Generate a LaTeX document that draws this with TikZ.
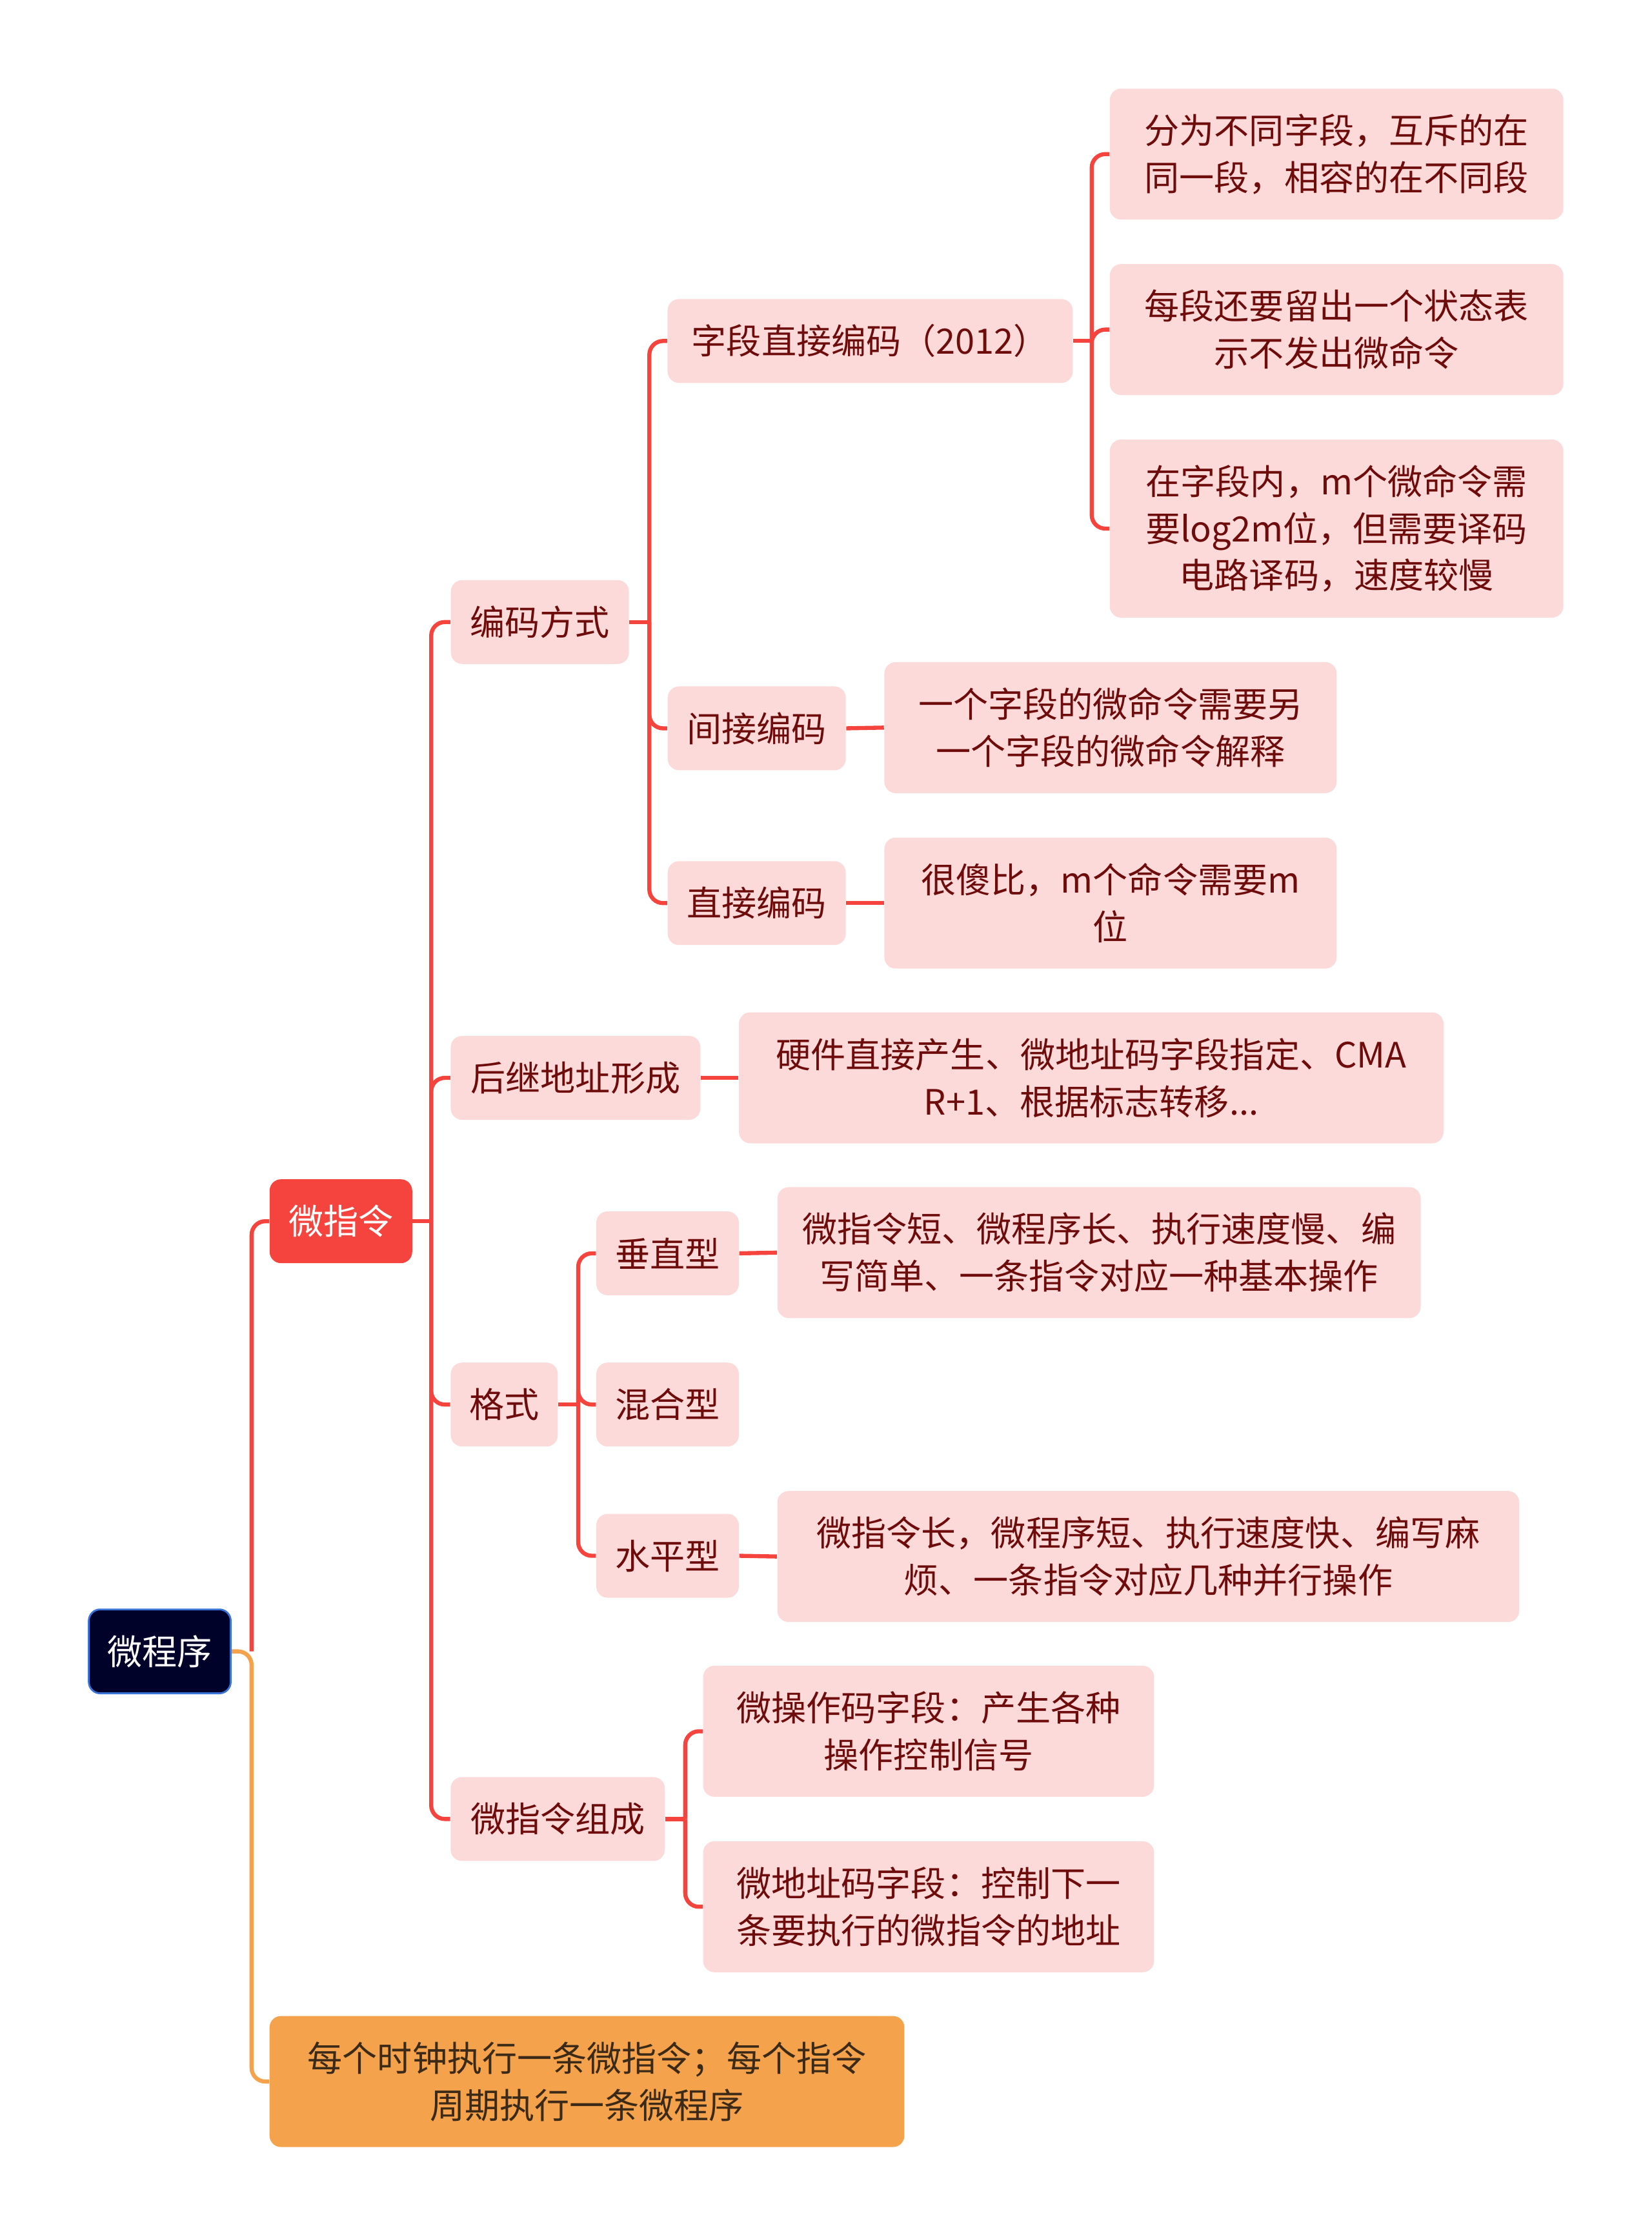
\documentclass[tikz,border=0pt]{standalone}
\usepackage{fontspec}
\setmainfont{Noto Sans CJK SC}
\definecolor{rootfill}{HTML}{00022A}
\definecolor{rootline}{HTML}{3A72D8}
\definecolor{mainred}{HTML}{F5443D}
\definecolor{pinkfill}{HTML}{FDDADA}
\definecolor{pinktext}{HTML}{6E0C0C}
\definecolor{orangefill}{HTML}{F5A24C}
\definecolor{orangetext}{HTML}{3B2A18}
\begin{document}
\begin{tikzpicture}[x=0.022107cm, y=-0.022107cm,
    box/.style={rounded corners=5pt, align=center, inner sep=0pt,
        font=\fontsize{15.4}{20.7}\selectfont},
    topic/.style={box, fill=pinkfill, text=pinktext},
    link/.style={draw=mainred, line width=1.8pt, rounded corners=6pt},
    olink/.style={link, draw=orangefill}]
    \useasboundingbox (0,0) rectangle (1158,1568);

    % ROOT
    \node [box, fill=rootfill, draw=rootline, line width=0.8pt, text=white,
        minimum width=2.2cm, minimum height=1.3cm] (root) at (112, 1157.5) {微程序};

    % 微指令
    \node [box, fill=mainred, text=white, minimum width=2.21cm, minimum height=1.3cm]
        (wzl) at (239, 856) {微指令};

    % 编码方式
    \node [topic, minimum width=2.76cm, minimum height=1.3cm] (bmfs) at (378.5, 436) {编码方式};
    \node [topic, minimum width=6.28cm, minimum height=1.3cm] (zdzj) at (610, 239) {字段直接编码（2012）};
    \node [topic, minimum width=7.03cm, minimum height=2.03cm] (zdzjA) at (937, 108)
        {分为不同字段，互斥的在\\同一段，相容的在不同段};
    \node [topic, minimum width=7.03cm, minimum height=2.03cm] (zdzjB) at (937, 231)
        {每段还要留出一个状态表\\示不发出微命令};
    \node [topic, minimum width=7.03cm, minimum height=2.76cm] (zdzjC) at (937, 370.5)
        {在字段内，m个微命令需\\要log2m位，但需要译码\\电路译码，速度较慢};
    \node [topic, minimum width=2.76cm, minimum height=1.3cm] (jjbm) at (530.5, 510.5) {间接编码};
    \node [topic, minimum width=7.01cm, minimum height=2.03cm] (jjbmA) at (778.5, 510)
        {一个字段的微命令需要另\\一个字段的微命令解释};
    \node [topic, minimum width=2.76cm, minimum height=1.3cm] (zjbm) at (530.5, 633) {直接编码};
    \node [topic, minimum width=7.01cm, minimum height=2.03cm] (zjbmA) at (778.5, 633)
        {很傻比，m个命令需要m\\位};

    % 后继地址形成
    \node [topic, minimum width=3.87cm, minimum height=1.3cm] (hjdz) at (403.5, 755.5) {后继地址形成};
    \node [topic, minimum width=10.92cm, minimum height=2.03cm] (hjdzA) at (765, 755.5)
        {硬件直接产生、微地址码字段指定、CMA\\R+1、根据标志转移...};

    % 格式
    \node [topic, minimum width=1.66cm, minimum height=1.3cm] (gs) at (353.5, 984.5) {格式};
    \node [topic, minimum width=2.21cm, minimum height=1.3cm] (czx) at (468, 878.5) {垂直型};
    \node [topic, minimum width=9.97cm, minimum height=2.03cm] (czxA) at (770.5, 878)
        {微指令短、微程序长、执行速度慢、编\\写简单、一条指令对应一种基本操作};
    \node [topic, minimum width=2.21cm, minimum height=1.3cm] (hhx) at (468, 984.5) {混合型};
    \node [topic, minimum width=2.21cm, minimum height=1.3cm] (spx) at (468, 1090.5) {水平型};
    \node [topic, minimum width=11.5cm, minimum height=2.03cm] (spxA) at (805, 1091)
        {微指令长，微程序短、执行速度快、编写麻\\烦、一条指令对应几种并行操作};

    % 微指令组成
    \node [topic, minimum width=3.32cm, minimum height=1.3cm] (zc) at (391, 1275) {微指令组成};
    \node [topic, minimum width=6.99cm, minimum height=2.03cm] (zcA) at (651, 1213.5)
        {微操作码字段：产生各种\\操作控制信号};
    \node [topic, minimum width=6.99cm, minimum height=2.03cm] (zcB) at (651, 1336.5)
        {微地址码字段：控制下一\\条要执行的微指令的地址};

    % 每个时钟
    \node [box, fill=orangefill, text=orangetext, minimum width=9.84cm, minimum height=2.03cm]
        (clk) at (411.5, 1459) {每个时钟执行一条微指令；每个指令\\周期执行一条微程序};

    % Links
    \coordinate (rootT) at ([xshift=14*0.022107cm]root.east);
    \draw [link] (rootT) |- (wzl.west);
    \draw [olink] (root.east) -- (rootT) |- (clk.west);

    \draw [link] (wzl.east) -- ++(13,0) coordinate (wzlT);
    \foreach \c in {bmfs, hjdz, gs, zc}
        \draw [link] (wzlT) |- (\c.west);

    \draw [link] (bmfs.east) -- ++(14,0) coordinate (bmfsT);
    \foreach \c in {zdzj, jjbm, zjbm}
        \draw [link] (bmfsT) |- (\c.west);

    \draw [link] (zdzj.east) -- ++(13,0) coordinate (zdzjT);
    \foreach \c in {zdzjA, zdzjB, zdzjC}
        \draw [link] (zdzjT) |- (\c.west);

    \draw [link] (jjbm.east) -- (jjbmA.west);
    \draw [link] (zjbm.east) -- (zjbmA.west);
    \draw [link] (hjdz.east) -- (hjdzA.west);

    \draw [link] (gs.east) -- ++(14,0) coordinate (gsT);
    \foreach \c in {czx, hhx, spx}
        \draw [link] (gsT) |- (\c.west);
    \draw [link] (czx.east) -- (czxA.west);
    \draw [link] (spx.east) -- (spxA.west);

    \draw [link] (zc.east) -- ++(14,0) coordinate (zcT);
    \foreach \c in {zcA, zcB}
        \draw [link] (zcT) |- (\c.west);
\end{tikzpicture}
\end{document}
